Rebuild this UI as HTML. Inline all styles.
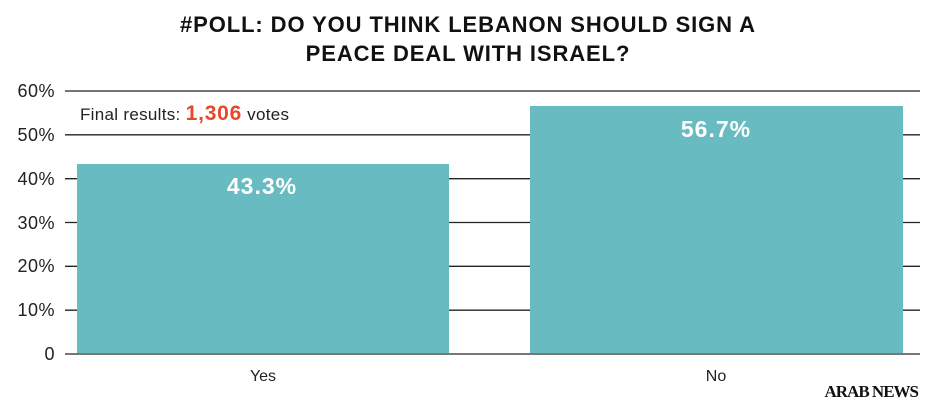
<!DOCTYPE html>
<html><head><style>
body{margin:0;width:936px;height:405px;background:#fff;overflow:hidden;font-family:"Liberation Sans",sans-serif}
</style></head><body>
<svg width="936" height="405" xmlns="http://www.w3.org/2000/svg" font-family="Liberation Sans, sans-serif">
<text x="468" y="32" text-anchor="middle" font-size="22" font-weight="bold" fill="#111" letter-spacing="0.9">#POLL: DO YOU THINK LEBANON SHOULD SIGN A</text>
<text x="468" y="61" text-anchor="middle" font-size="22" font-weight="bold" fill="#111" letter-spacing="0.9">PEACE DEAL WITH ISRAEL?</text>
<g stroke="#222" stroke-width="1.3">
<line x1="65" x2="920" y1="91" y2="91"/>
<line x1="65" x2="920" y1="134.8" y2="134.8"/>
<line x1="65" x2="920" y1="178.7" y2="178.7"/>
<line x1="65" x2="920" y1="222.5" y2="222.5"/>
<line x1="65" x2="920" y1="266.3" y2="266.3"/>
<line x1="65" x2="920" y1="310.2" y2="310.2"/>
</g>
<g font-size="18" fill="#222" text-anchor="end" letter-spacing="0.5">
<text x="55" y="97">60%</text><text x="55" y="141">50%</text><text x="55" y="185">40%</text>
<text x="55" y="229">30%</text><text x="55" y="272">20%</text><text x="55" y="316">10%</text><text x="55" y="360">0</text>
</g>
<rect x="77" y="164" width="372" height="190" fill="#68bcc1"/>
<rect x="530" y="106" width="373" height="248" fill="#68bcc1"/>
<line x1="65" x2="920" y1="354" y2="354" stroke="#777" stroke-width="2"/>
<text x="262" y="194" text-anchor="middle" font-size="23" font-weight="bold" fill="#fff" letter-spacing="1">43.3%</text>
<text x="716" y="137" text-anchor="middle" font-size="23" font-weight="bold" fill="#fff" letter-spacing="1">56.7%</text>
<text x="80" y="120" font-size="17" fill="#222" letter-spacing="0.3">Final results: <tspan font-weight="bold" font-size="21" fill="#e8472a" letter-spacing="0.8">1,306</tspan> votes</text>
<text x="263" y="381" text-anchor="middle" font-size="16" fill="#222">Yes</text>
<text x="716" y="381" text-anchor="middle" font-size="16" fill="#222">No</text>
<text x="918" y="397" text-anchor="end" font-size="17" font-weight="bold" font-family="Liberation Serif, serif" fill="#111" letter-spacing="-1">ARAB NEWS</text>
</svg>
</body></html>
